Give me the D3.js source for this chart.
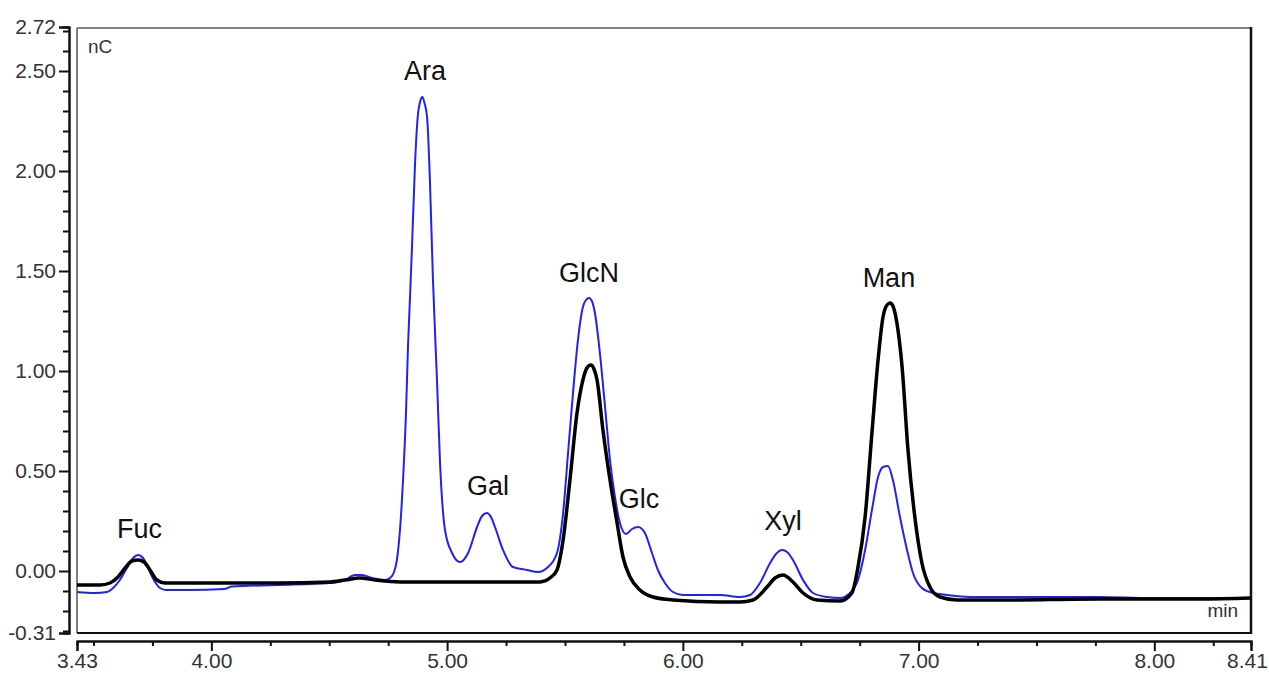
<!DOCTYPE html>
<html lang="en">
<head>
    <meta charset="UTF-8">
    <title>Chromatogram overlay</title>
    <script src="https://d3js.org/d3.v7.min.js"></script>
    <style>
        body { margin: 0; background: #fff; font-family: "Liberation Sans", Arial, sans-serif; }
        .tick-label { font-size: 21px; fill: #333; }
        .peak-label { font-size: 27px; fill: #111; text-anchor: middle; }
        .unit { font-size: 19px; fill: #333; }
    </style>
</head>
<body>
<svg width="1269" height="673"></svg>
<script>
    // retention time (min) and signal (nC)
    const blueTime = [3.430, 3.506, 3.557, 3.583, 3.612, 3.642, 3.668, 3.689, 3.710, 3.735, 3.761, 3.782, 3.808, 3.909,
        4.054, 4.087, 4.278, 4.503, 4.567, 4.609, 4.639, 4.681, 4.737, 4.758, 4.775, 4.787, 4.800, 4.813, 4.826, 4.834,
        4.843, 4.851, 4.864, 4.876, 4.885, 4.895, 4.904, 4.915, 4.927, 4.940, 4.957, 4.970, 4.991, 5.021, 5.055, 5.089,
        5.127, 5.148, 5.169, 5.186, 5.203, 5.237, 5.279, 5.339, 5.385, 5.428, 5.466, 5.492, 5.513, 5.534, 5.555, 5.576,
        5.589, 5.602, 5.614, 5.627, 5.648, 5.670, 5.691, 5.712, 5.733, 5.759, 5.784, 5.810, 5.839, 5.869, 5.894, 5.924,
        5.958, 6.000, 6.073, 6.158, 6.242, 6.285, 6.327, 6.370, 6.395, 6.421, 6.442, 6.467, 6.510, 6.552, 6.611, 6.667,
        6.709, 6.743, 6.773, 6.802, 6.828, 6.849, 6.870, 6.891, 6.921, 6.951, 6.976, 7.014, 7.061, 7.120, 7.218, 7.345,
        7.557, 7.769, 7.982, 8.194, 8.410];
    const blueValue = [-0.105, -0.110, -0.105, -0.085, -0.045, 0.015, 0.065, 0.080, 0.065, 0.005, -0.055, -0.085, -0.095, -0.095,
        -0.090, -0.078, -0.070, -0.060, -0.045, -0.020, -0.020, -0.035, -0.045, -0.035, -0.005, 0.055, 0.205, 0.455, 0.805, 1.120,
        1.380, 1.620, 2.040, 2.280, 2.345, 2.370, 2.340, 2.270, 1.955, 1.455, 0.955, 0.540, 0.205, 0.090, 0.045, 0.090,
        0.220, 0.275, 0.290, 0.270, 0.220, 0.105, 0.020, 0.005, -0.005, 0.020, 0.090, 0.290, 0.590, 0.890, 1.155, 1.320,
        1.355, 1.365, 1.350, 1.290, 1.090, 0.820, 0.555, 0.370, 0.240, 0.185, 0.210, 0.220, 0.190, 0.090, 0.005, -0.060,
        -0.105, -0.120, -0.120, -0.120, -0.130, -0.120, -0.060, 0.040, 0.085, 0.105, 0.095, 0.055, -0.045, -0.110, -0.130, -0.135,
        -0.110, -0.045, 0.105, 0.305, 0.470, 0.520, 0.525, 0.455, 0.270, 0.105, -0.010, -0.085, -0.110, -0.120, -0.130, -0.130,
        -0.130, -0.130, -0.135, -0.135, -0.135];

    const blackTime = [3.430, 3.528, 3.570, 3.604, 3.634, 3.663, 3.689, 3.714, 3.740, 3.769, 3.803, 3.952, 4.278, 4.503,
        4.567, 4.630, 4.694, 4.800, 5.012, 5.224, 5.394, 5.436, 5.466, 5.492, 5.521, 5.551, 5.576, 5.593, 5.610, 5.623,
        5.636, 5.661, 5.691, 5.721, 5.746, 5.776, 5.818, 5.873, 5.958, 6.158, 6.242, 6.297, 6.357, 6.391, 6.425, 6.467,
        6.510, 6.569, 6.667, 6.717, 6.743, 6.773, 6.802, 6.828, 6.849, 6.866, 6.879, 6.891, 6.908, 6.930, 6.955, 6.984,
        7.014, 7.048, 7.091, 7.163, 7.345, 7.769, 8.194, 8.410];
    const blackValue = [-0.070, -0.070, -0.060, -0.030, 0.015, 0.050, 0.055, 0.045, 0.005, -0.045, -0.060, -0.060, -0.060, -0.055,
        -0.045, -0.035, -0.045, -0.055, -0.055, -0.055, -0.055, -0.035, 0.005, 0.155, 0.455, 0.790, 0.955, 1.015, 1.030, 1.010,
        0.955, 0.705, 0.455, 0.240, 0.070, -0.030, -0.095, -0.130, -0.145, -0.155, -0.155, -0.145, -0.080, -0.035, -0.020, -0.055,
        -0.110, -0.145, -0.150, -0.110, 0.020, 0.270, 0.690, 1.055, 1.270, 1.330, 1.340, 1.325, 1.240, 1.020, 0.605, 0.270,
        0.040, -0.080, -0.130, -0.145, -0.145, -0.140, -0.140, -0.135];

    // peak names and where their labels sit (time, signal at text baseline)
    const peakNames = ["Fuc", "Ara", "Gal", "GlcN", "Glc", "Xyl", "Man"];
    const peakLabelTime = [3.695, 4.906, 5.173, 5.602, 5.814, 6.425, 6.874];
    const peakLabelValue = [0.165, 2.455, 0.38, 1.445, 0.315, 0.205, 1.42];

    const xMajor = [4, 5, 6, 7, 8];
    const yMajor = [0, 0.5, 1.0, 1.5, 2.0, 2.5];
    const xDomain = [3.43, 8.41];
    const yDomain = [-0.31, 2.72];

    const svg = d3.select("svg");
    const plotLeft = 77, plotRight = 1251, plotTop = 27, plotBottom = 633;

    const x = d3.scaleLinear().domain(xDomain).range([plotLeft, plotRight]);
    const y = d3.scaleLinear().domain(yDomain).range([plotBottom, plotTop]);
    const fmt = d => d3.format(".2f")(d).replace("\u2212", "-");

    // frame (light top/left, dark right/bottom)
    svg.append("line").attr("x1", plotLeft).attr("x2", plotRight).attr("y1", plotTop + 1).attr("y2", plotTop + 1)
        .attr("stroke", "#808080").attr("stroke-width", 2);
    svg.append("line").attr("x1", plotLeft).attr("x2", plotLeft).attr("y1", plotTop + 1).attr("y2", plotBottom)
        .attr("stroke", "#808080").attr("stroke-width", 2);
    svg.append("line").attr("x1", plotRight).attr("x2", plotRight).attr("y1", plotTop).attr("y2", plotBottom + 1)
        .attr("stroke", "#111").attr("stroke-width", 2.5);
    svg.append("line").attr("x1", plotLeft).attr("x2", plotRight + 1).attr("y1", plotBottom).attr("y2", plotBottom)
        .attr("stroke", "#111").attr("stroke-width", 2);

    // y axis at x = 69
    const yMinor = d3.range(-3, 28).map(d => d / 10).filter(d => Math.abs(d * 2 - Math.round(d * 2)) > 1e-6);
    const yAxisMajor = d3.axisLeft(y).tickValues([yDomain[0], ...yMajor, yDomain[1]])
        .tickFormat(fmt).tickSize(10).tickPadding(3);
    const yAxisMinor = d3.axisLeft(y).tickValues(yMinor).tickSize(6).tickFormat("");
    const gy = svg.append("g").attr("transform", "translate(69,0)");
    gy.append("g").call(yAxisMinor);
    gy.append("g").call(yAxisMajor);

    // x axis at y = 641
    const xMinor = d3.range(3.5, 8.3, 0.25).filter(d => Math.abs(d - Math.round(d)) > 1e-6);
    const xAxisMajor = d3.axisBottom(x).tickValues([xDomain[0], ...xMajor, xDomain[1]])
        .tickFormat(fmt).tickSize(10);
    const xAxisMinor = d3.axisBottom(x).tickValues(xMinor).tickSize(5).tickFormat("");
    const gx = svg.append("g").attr("transform", "translate(0,641)");
    gx.append("g").call(xAxisMinor);
    gx.append("g").call(xAxisMajor);

    svg.selectAll(".domain").attr("stroke", "#111").attr("stroke-width", 2);
    svg.selectAll(".tick line").attr("stroke", "#111").attr("stroke-width", 2);
    svg.selectAll(".tick text").attr("class", "tick-label").attr("font-family", null).attr("font-size", null).attr("fill", null);
    gx.selectAll(".tick text").attr("y", 27).attr("dy", null)
        .attr("dx", d => d === xDomain[1] ? -4 : 0);

    // traces
    const line = d3.line()
        .x(d => x(d[0]))
        .y(d => y(d[1]))
        .curve(d3.curveMonotoneX);

    const blue = d3.zip(blueTime, blueValue);
    const black = d3.zip(blackTime, blackValue);

    svg.append("path").datum(blue)
        .attr("d", line)
        .attr("fill", "none")
        .attr("stroke", "#2121f5")
        .attr("stroke-width", 2)
        .attr("stroke-linejoin", "round");

    svg.append("path").datum(black)
        .attr("d", line)
        .attr("fill", "none")
        .attr("stroke", "#000")
        .attr("stroke-width", 3.5)
        .attr("stroke-linejoin", "round");

    // peak labels
    svg.selectAll(".peak-label").data(peakNames).enter().append("text")
        .attr("class", "peak-label")
        .attr("x", (d, i) => x(peakLabelTime[i]))
        .attr("y", (d, i) => y(peakLabelValue[i]))
        .text(d => d);

    // units
    svg.append("text").attr("class", "unit").attr("x", plotLeft + 11).attr("y", 53).text("nC");
    svg.append("text").attr("class", "unit").attr("x", plotRight - 13).attr("y", 617)
        .attr("text-anchor", "end").text("min");
</script>
</body>
</html>
